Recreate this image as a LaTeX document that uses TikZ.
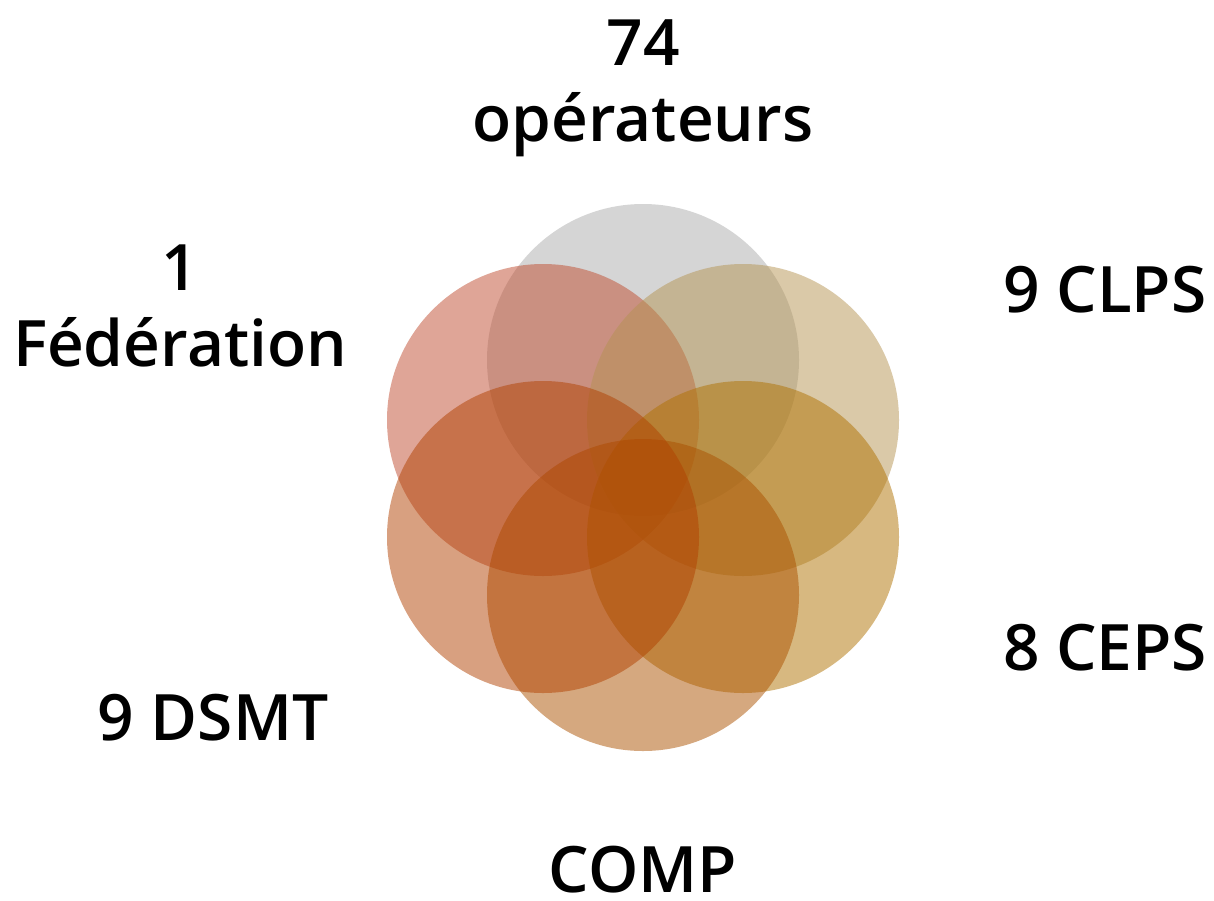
\documentclass[tikz,border=0pt]{standalone}
\usepackage{fontspec}
\IfFontExistsTF{Open Sans Semibold}
	{\setmainfont{Open Sans}[BoldFont={Open Sans Semibold}]}
	{\IfFontExistsTF{OpenSans-SemiBold}
		{\setmainfont{Open Sans}[BoldFont={OpenSans-SemiBold}]}
		{\setmainfont{Open Sans}[BoldFont={Open Sans}, BoldFeatures={FakeBold=1.6}]}}
\usetikzlibrary{positioning}

\definecolor{petalgrey}{RGB}{171,171,171}
\definecolor{petalred}{RGB}{191,75,47}
\definecolor{petalsand}{RGB}{181,147,81}
\definecolor{petalgold}{RGB}{175,113,1}
\definecolor{petalochre}{RGB}{171,81,0}
\definecolor{petalrust}{RGB}{177,65,1}

\tikzset{
	every petal/.style={
		circle,
		draw=none,
		minimum size=312pt,
		inner sep=0pt,
		fill opacity=0.5
	},
	petal label/.style={
		font=\fontsize{64}{76}\selectfont\bfseries,
		align=center,
		inner sep=0pt
	},
}

\begin{document}
\begin{tikzpicture}[x=1pt, y=-1pt]
\useasboundingbox (0,0) rectangle (1214,900);

\foreach \n/\c/\x/\y in {top/petalgrey/643/360, left/petalred/543/420,
	right/petalsand/743/420, rightlow/petalgold/743/537,
	bottom/petalochre/643/595, leftlow/petalrust/543/537}
	\node [every petal, fill=\c] (petal-\n) at (\x,\y) {};

\node [petal label] (operateurs) at (643,88) {74\\opérateurs};
\node [petal label] (federation) at (180,306) {1\\Fédération};
\node [petal label] (clps) at (1105,290) {9 CLPS};
\node [petal label] (ceps) at (1105,648) {8 CEPS};
\node [petal label] (dsmt) at (213,718) {9 DSMT};
\node [petal label] (comp) at (643,870) {COMP};

\end{tikzpicture}
\end{document}
